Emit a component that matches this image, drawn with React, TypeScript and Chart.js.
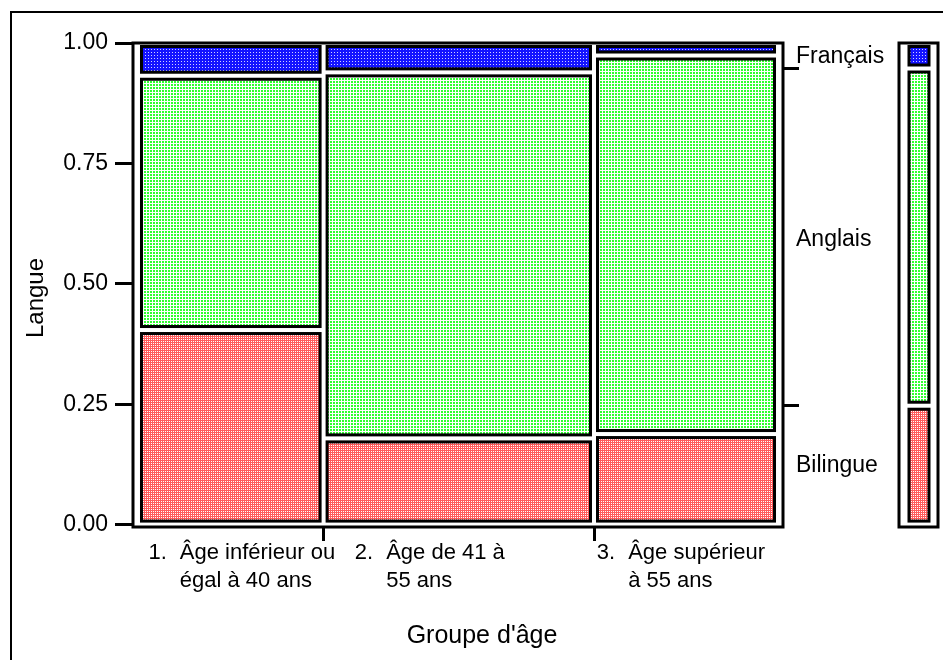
import React, { useEffect, useRef } from "react";
import { Chart, registerables } from "chart.js";
Chart.register(...registerables);

// ---- data ----
const groupNumbers = ["1.", "2.", "3."];
const groupLine1 = ["Âge inférieur ou", "Âge de 41 à", "Âge supérieur"];
const groupLine2 = ["égal à 40 ans", "55 ans", "à 55 ans"];
const groupShares = [0.29, 0.4225, 0.2875];
const languages = ["Bilingue", "Anglais", "Français"];
const bilingue = [0.404, 0.179, 0.188];
const anglais = [0.528, 0.76, 0.786];
const francais = [0.068, 0.061, 0.026];
const yTicks = [0, 0.25, 0.5, 0.75, 1];

const FONT = "'Liberation Sans', Arial, Helvetica, sans-serif";
// layout nudges for the wrapped category labels (pixels)
const LABEL_NUDGE = [11, -29, -5];

function makePattern(kind: string): CanvasPattern | string {
  const c = document.createElement("canvas");
  const g = c.getContext("2d")!;
  if (kind === "blue") {
    c.width = 3; c.height = 3;
    g.fillStyle = "#1414ff"; g.fillRect(0, 0, 3, 3);
    g.fillStyle = "#d0d0ff"; g.fillRect(1, 1, 1, 1);
  } else if (kind === "green") {
    c.width = 3; c.height = 3;
    g.fillStyle = "#ffffff"; g.fillRect(0, 0, 3, 3);
    g.fillStyle = "#30ff30"; g.fillRect(0, 0, 2, 2);
  } else {
    c.width = 2; c.height = 2;
    g.fillStyle = "#ff5c5c"; g.fillRect(0, 0, 2, 2);
    g.fillStyle = "#ffffff"; g.fillRect(1, 1, 1, 1);
  }
  const p = g.createPattern(c, "repeat");
  return p || "#ff8080";
}

function cumulative(arr: number[]) {
  const out: number[] = [0];
  arr.forEach((v, i) => out.push(out[i] + v));
  return out;
}

export default function App() {
  const ref = useRef<HTMLCanvasElement | null>(null);

  useEffect(() => {
    const canvas = ref.current!;
    const patterns = [makePattern("red"), makePattern("green"), makePattern("blue")];
    const series = [bilingue, anglais, francais];
    const xEdges = cumulative(groupShares);
    const totalShare = groupShares.reduce((a, b) => a + b, 0);
    const marginal = series.map((s) => s.reduce((acc, v, i) => acc + v * groupShares[i], 0) / totalShare);
    const mEdges = cumulative(marginal);
    const innerEdges = xEdges.slice(1, -1);
    const mInner = mEdges.slice(1, -1);

    const drawCell = (ctx: CanvasRenderingContext2D, l: number, r: number, t: number, b: number, fill: any) => {
      ctx.fillStyle = fill;
      ctx.fillRect(l, t, r - l, b - t);
      ctx.lineWidth = 3;
      ctx.strokeStyle = "#000";
      ctx.strokeRect(l, t, r - l, b - t);
    };

    const mosaicPlugin = {
      id: "mosaic",
      afterDraw(chart: any) {
        const ctx: CanvasRenderingContext2D = chart.ctx;
        const xs = chart.scales.x;
        const ys = chart.scales.y;
        const area = chart.chartArea;
        const inset = 3.5;
        ctx.save();
        ctx.lineWidth = 3;
        ctx.strokeStyle = "#000";
        ctx.strokeRect(area.left, area.top, area.right - area.left, area.bottom - area.top);
        for (let gi = 0; gi < groupShares.length; gi++) {
          const l = xs.getPixelForValue(xEdges[gi]) + inset;
          const r = xs.getPixelForValue(xEdges[gi + 1]) - inset;
          let acc = 0;
          for (let si = 0; si < series.length; si++) {
            const v = series[si][gi];
            const bPx = ys.getPixelForValue(acc) - inset;
            const tPx = ys.getPixelForValue(acc + v) + inset;
            drawCell(ctx, l, r, tPx, bPx, patterns[si]);
            acc += v;
          }
        }
        const mL = area.right + 116;
        const mR = area.right + 155;
        ctx.lineWidth = 3;
        ctx.strokeStyle = "#000";
        ctx.strokeRect(mL, area.top, mR - mL, area.bottom - area.top);
        for (let si = 0; si < marginal.length; si++) {
          const bPx = ys.getPixelForValue(mEdges[si]) - inset;
          const tPx = ys.getPixelForValue(mEdges[si + 1]) + inset;
          drawCell(ctx, mL + 10, mR - 9, tPx, bPx, patterns[si]);
        }
        ctx.fillStyle = "#000";
        ctx.font = `23px ${FONT}`;
        ctx.textAlign = "left";
        ctx.textBaseline = "middle";
        for (let si = 0; si < languages.length; si++) {
          const mid = (mEdges[si] + mEdges[si + 1]) / 2;
          const y = Math.max(ys.getPixelForValue(mid), area.top + 10);
          ctx.fillText(languages[si], area.right + 13, y + (si === 1 ? 3 : 1));
        }
        ctx.font = `22px ${FONT}`;
        ctx.textBaseline = "middle";
        for (let gi = 0; gi < groupShares.length; gi++) {
          const cx = (xs.getPixelForValue(xEdges[gi]) + xs.getPixelForValue(xEdges[gi + 1])) / 2;
          const numW = ctx.measureText(groupNumbers[gi]).width;
          const indent = numW + 13;
          const w = indent + Math.max(ctx.measureText(groupLine1[gi]).width, ctx.measureText(groupLine2[gi]).width);
          const left = cx - w / 2 + LABEL_NUDGE[gi];
          ctx.fillText(groupNumbers[gi], left, area.bottom + 26);
          ctx.fillText(groupLine1[gi], left + indent, area.bottom + 26);
          ctx.fillText(groupLine2[gi], left + indent, area.bottom + 54);
        }
        ctx.font = `25px ${FONT}`;
        ctx.textAlign = "center";
        ctx.fillText("Groupe d'âge", (area.left + area.right) / 2 + 24, area.bottom + 109);
        ctx.font = `24px ${FONT}`;
        ctx.save();
        ctx.translate(36, (area.top + area.bottom) / 2 + 13);
        ctx.rotate(-Math.PI / 2);
        ctx.fillText("Langue", 0, 0);
        ctx.restore();
        ctx.restore();
      },
    };

    const chart = new Chart(canvas, {
      type: "scatter",
      data: { datasets: [{ data: [], showLine: false }] },
      options: {
        animation: false,
        responsive: false,
        events: [],
        layout: { padding: { top: 43, left: 0, right: 0, bottom: 0 } },
        plugins: { legend: { display: false }, tooltip: { enabled: false }, title: { display: false } },
        scales: {
          x: {
            type: "linear",
            min: -0.0078,
            max: 1.0078,
            afterBuildTicks: (s: any) => { s.ticks = innerEdges.map((v) => ({ value: v })); },
            afterFit: (s: any) => { s.height = 133; },
            ticks: { callback: () => "", font: { size: 1 } },
            grid: { display: true, drawOnChartArea: false, drawTicks: true, tickLength: 14, tickWidth: 3, tickColor: "#000" },
            border: { display: false },
          },
          y: {
            type: "linear",
            position: "left",
            min: -0.005,
            max: 1,
            afterBuildTicks: (s: any) => { s.ticks = yTicks.map((v) => ({ value: v })); },
            afterFit: (s: any) => { s.width = 133; },
            ticks: {
              callback: (v: any) => Number(v).toFixed(2),
              font: { family: FONT, size: 23 },
              color: "#000",
              padding: 7,
            },
            grid: { display: true, drawOnChartArea: false, drawTicks: true, tickLength: 18, tickWidth: 3, tickColor: "#000" },
            border: { display: false },
          },
          y2: {
            type: "linear",
            position: "right",
            min: -0.005,
            max: 1,
            afterBuildTicks: (s: any) => { s.ticks = mInner.map((v) => ({ value: v })); },
            afterFit: (s: any) => { s.width = 160; },
            ticks: { callback: () => "", font: { size: 1 } },
            grid: { display: true, drawOnChartArea: false, drawTicks: true, tickLength: 16, tickWidth: 3, tickColor: "#000" },
            border: { display: false },
          },
        },
      },
      plugins: [mosaicPlugin],
    } as any);
    return () => chart.destroy();
  }, []);

  return (
    <div style={{ position: "fixed", left: 0, top: 0, width: 943, height: 660, overflow: "hidden", background: "#fff" }}>
      <div
        style={{
          position: "absolute",
          left: 10,
          top: 11,
          width: 2000,
          height: 2000,
          borderLeft: "2px solid #000",
          borderTop: "2px solid #000",
        }}
      />
      <canvas ref={ref} width={943} height={660} style={{ position: "absolute", left: 0, top: 0, width: 943, height: 660 }} />
    </div>
  );
}
